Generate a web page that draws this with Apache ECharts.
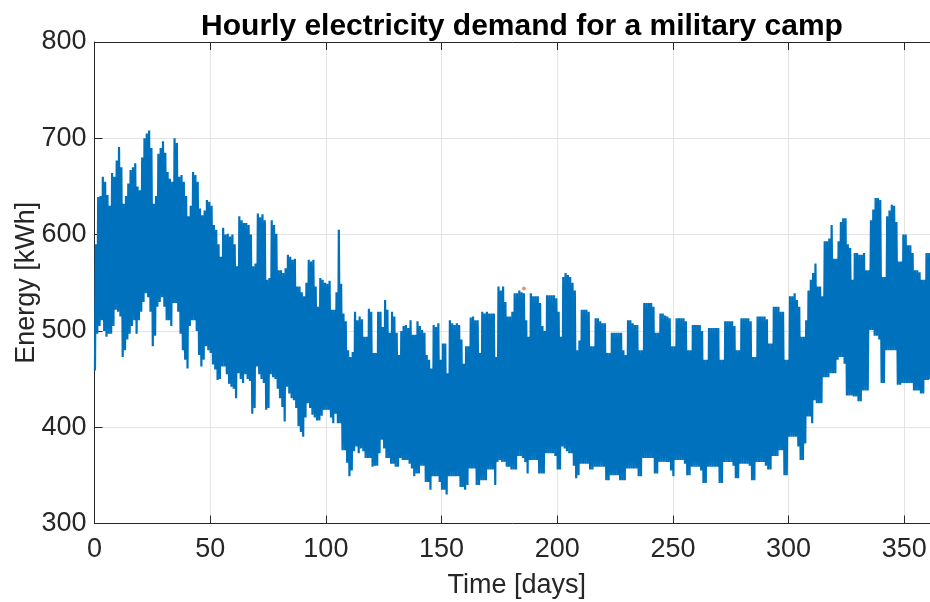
<!DOCTYPE html>
<html>
<head>
<meta charset="utf-8">
<title>Hourly electricity demand for a military camp</title>
<script src="https://cdn.jsdelivr.net/npm/echarts@6/dist/echarts.min.js"></script>
<style>
  html, body { margin: 0; padding: 0; background: #ffffff; }
  #chart { width: 930px; height: 602px; }
</style>
</head>
<body>
<div id="chart"></div>
<script>
// Daily peak (afternoon) demand in kWh, day 0 .. 364
const dailyHigh = [
  590, 639, 640, 660, 655, 641, 630, 664, 660, 677,
  691, 670, 632, 640, 653, 667, 670, 674, 650, 646,
  680, 700, 705, 708, 690, 632, 640, 684, 690, 697,
  685, 665, 658, 655, 700, 695, 660, 662, 655, 640,
  619, 630, 665, 662, 655, 627, 620, 625, 636, 634,
  630, 610, 605, 590, 577, 607, 600, 601, 598, 600,
  590, 567, 619, 615, 612, 612, 610, 600, 567, 570,
  622, 618, 621, 615, 553, 555, 615, 610, 601, 563,
  563, 560, 565, 579, 577, 574, 575, 546, 546, 540,
  536, 550, 574, 572, 574, 546, 525, 555, 553, 550,
  549, 552, 522, 522, 540, 605, 549, 518, 510, 480,
  473, 478, 520, 511, 515, 512, 494, 494, 523, 520,
  477, 477, 520, 520, 504, 532, 522, 498, 520, 515,
  498, 475, 500, 505, 506, 503, 511, 496, 496, 510,
  505, 501, 498, 475, 470, 461, 506, 504, 508, 470,
  487, 487, 456, 511, 508, 506, 508, 506, 491, 466,
  484, 484, 514, 515, 511, 511, 477, 520, 518, 520,
  518, 518, 518, 473, 546, 542, 546, 530, 515, 515,
  520, 539, 539, 542, 540, 539, 511, 494, 539, 536,
  536, 536, 529, 505, 500, 537, 537, 537, 537, 534,
  520, 494, 556, 560, 558, 556, 550, 542, 480, 490,
  522, 522, 522, 520, 484, 484, 513, 513, 510, 508,
  508, 477, 477, 498, 498, 498, 498, 498, 480, 475,
  511, 511, 508, 506, 506, 480, 480, 529, 529, 529,
  529, 525, 498, 498, 518, 518, 516, 515, 513, 484,
  484, 513, 513, 513, 513, 510, 480, 480, 506, 506,
  506, 506, 500, 470, 470, 503, 503, 503, 503, 503,
  470, 470, 510, 510, 510, 510, 505, 480, 480, 513,
  513, 513, 513, 510, 473, 473, 515, 515, 515, 515,
  512, 487, 487, 525, 525, 525, 520, 520, 470, 470,
  536, 536, 539, 532, 525, 494, 494, 511, 542, 553,
  560, 570, 546, 546, 536, 593, 593, 596, 610, 575,
  575, 593, 613, 617, 617, 590, 586, 553, 581, 581,
  579, 579, 581, 563, 563, 615, 626, 638, 638, 636,
  556, 556, 619, 625, 631, 630, 613, 572, 572, 600,
  600, 589, 589, 581, 563, 563, 561, 553, 553, 581,
  581, 580, 560, 585, 585
];

// Daily minimum (night) demand in kWh, day 0 .. 364
const dailyLow = [
  459, 497, 505, 511, 500, 494, 497, 497, 505, 522,
  520, 515, 473, 480, 491, 497, 505, 511, 497, 511,
  520, 530, 539, 535, 520, 484, 495, 525, 530, 535,
  525, 511, 511, 505, 529, 529, 520, 497, 480, 470,
  461, 505, 511, 511, 500, 475, 463, 470, 484, 480,
  477, 465, 460, 449, 450, 463, 463, 455, 445, 442,
  440, 430, 456, 450, 446, 455, 450, 448, 414, 420,
  463, 455, 450, 446, 418, 420, 455, 452, 450, 440,
  430, 421, 406, 442, 435, 430, 428, 420, 401, 395,
  390, 410, 425, 420, 413, 410, 407, 407, 412, 418,
  418, 418, 410, 404, 414, 404, 404, 376, 376, 363,
  349, 355, 375, 380, 373, 378, 375, 368, 368, 368,
  359, 360, 360, 373, 387, 378, 368, 368, 362, 362,
  359, 359, 368, 366, 366, 366, 362, 357, 349, 352,
  352, 360, 360, 343, 343, 335, 349, 349, 349, 343,
  335, 335, 330, 349, 349, 349, 349, 349, 338, 338,
  335, 340, 357, 357, 357, 340, 340, 345, 345, 345,
  356, 356, 356, 340, 364, 366, 364, 364, 359, 359,
  356, 356, 356, 370, 370, 368, 364, 352, 366, 366,
  366, 366, 352, 352, 352, 373, 373, 373, 373, 370,
  356, 356, 380, 378, 375, 373, 373, 360, 347, 350,
  362, 362, 362, 362, 356, 356, 359, 359, 359, 359,
  359, 345, 345, 350, 350, 350, 350, 345, 345, 345,
  357, 357, 357, 357, 357, 349, 349, 368, 368, 368,
  368, 368, 352, 352, 364, 364, 364, 364, 364, 355,
  349, 366, 366, 366, 366, 362, 350, 350, 359, 359,
  359, 359, 355, 342, 342, 359, 359, 359, 359, 359,
  342, 342, 364, 364, 364, 364, 360, 347, 347, 362,
  362, 362, 362, 360, 345, 345, 364, 364, 364, 364,
  360, 356, 356, 370, 370, 370, 376, 376, 350, 350,
  390, 390, 390, 390, 380, 366, 366, 383, 411, 411,
  404, 428, 425, 425, 425, 452, 452, 452, 456, 456,
  456, 470, 473, 473, 466, 433, 433, 433, 432, 432,
  427, 427, 438, 438, 438, 501, 501, 495, 495, 491,
  446, 446, 480, 480, 480, 480, 480, 444, 444, 446,
  446, 446, 446, 446, 438, 438, 438, 435, 435, 449,
  449, 450, 440, 450, 450
];

// Isolated marked reading (day, kWh)
const markedPoint = [[185.6, 544]];

// Axis ticks
const xTicks = { min: 0, max: 365, step: 50 };
const yTicks = { min: 300, max: 800, step: 100 };

// Each day contributes its night minimum followed by its afternoon peak
const hourlySeries = [];
for (let d = 0; d < dailyHigh.length; d++) {
  hourlySeries.push([d + 0.2, dailyLow[d]]);
  hourlySeries.push([d + 0.6, dailyHigh[d]]);
}

const ink = '#262626';
const font = 'Liberation Sans, Arial, Helvetica, sans-serif';
const gridColor = '#e3e3e3';

const chart = echarts.init(document.getElementById('chart'), null, { renderer: 'canvas' });
chart.setOption({
  animation: false,
  backgroundColor: '#ffffff',
  title: {
    text: 'Hourly electricity demand for a military camp',
    left: 517,
    textAlign: 'center',
    top: 7,
    textStyle: { fontFamily: font, fontSize: 30, fontWeight: 'bold', color: '#000000' }
  },
  grid: {
    left: 94.5, right: -9, top: 42, bottom: 78.5,
    containLabel: false,
    outerBoundsMode: 'none'
  },
  xAxis: [
    {
      type: 'value',
      position: 'bottom',
      min: xTicks.min, max: xTicks.max, interval: xTicks.step,
      name: 'Time [days]',
      nameLocation: 'middle',
      nameGap: 49,
      nameMoveOverlap: false,
      nameTextStyle: { fontFamily: font, fontSize: 27, color: ink },
      axisLine: { show: true, lineStyle: { color: ink, width: 1 } },
      axisTick: { show: true, inside: true, length: 8, lineStyle: { color: ink } },
      axisLabel: { fontFamily: font, fontSize: 27, color: ink, margin: 13, showMaxLabel: false },
      splitLine: { show: true, lineStyle: { color: gridColor, width: 1 } }
    },
    {
      type: 'value',
      position: 'top',
      min: xTicks.min, max: xTicks.max, interval: xTicks.step,
      axisLine: { show: true, lineStyle: { color: ink, width: 1 } },
      axisTick: { show: true, inside: true, length: 8, lineStyle: { color: ink } },
      axisLabel: { show: false },
      splitLine: { show: false }
    }
  ],
  yAxis: {
    type: 'value',
    min: yTicks.min, max: yTicks.max, interval: yTicks.step,
    name: 'Energy [kWh]',
    nameLocation: 'middle',
    nameGap: 54,
    nameMoveOverlap: false,
    nameRotate: 90,
    nameTextStyle: { fontFamily: font, fontSize: 27, color: ink },
    axisLine: { show: true, lineStyle: { color: ink, width: 1 } },
    axisTick: { show: true, inside: true, length: 8, lineStyle: { color: ink } },
    axisLabel: { fontFamily: font, fontSize: 27, color: ink, margin: 8 },
    splitLine: { show: true, lineStyle: { color: gridColor, width: 1 } }
  },
  series: [
    {
      type: 'line',
      xAxisIndex: 0,
      data: hourlySeries,
      showSymbol: false,
      symbol: 'none',
      lineStyle: { color: '#0072BD', width: 2.2 },
      clip: true,
      z: 3
    },
    {
      type: 'scatter',
      xAxisIndex: 0,
      data: markedPoint,
      symbolSize: 4,
      itemStyle: { color: '#D95319', opacity: 0.6 },
      z: 4
    }
  ]
});
</script>
</body>
</html>
